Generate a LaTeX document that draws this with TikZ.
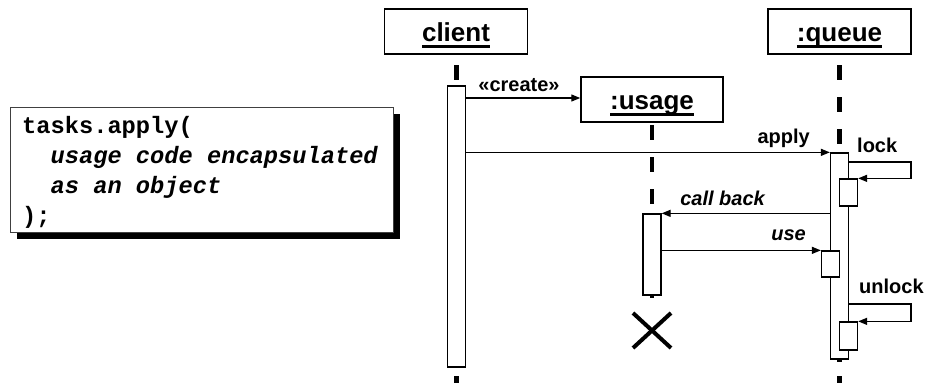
\documentclass[tikz,border=0pt]{standalone}
\usepackage{fontspec}
\setmainfont{Liberation Sans}
\setmonofont{Liberation Mono}
\usetikzlibrary{arrows.meta}
\newsavebox\ulbox
\newcommand{\ulname}[1]{\sbox\ulbox{#1}\rlap{\rule[-6pt]{\wd\ulbox}{2.6pt}}\usebox\ulbox}
\begin{document}
\begin{tikzpicture}[x=1pt,y=-1pt,
  objbox/.style={draw, line width=1.5pt, fill=white, minimum width=143pt, minimum height=45pt,
    inner sep=0pt, text height=25pt, text depth=4.6pt, font=\fontsize{26}{30}\selectfont\bfseries},
  bar/.style={draw, line width=1.3pt, fill=white, minimum width=18pt, inner sep=0pt},
  msg/.style={line width=1.3pt, -{Triangle[length=9pt,width=7pt]}},
  lbl/.style={font=\fontsize{20}{24}\selectfont\bfseries, inner sep=0pt},
  lifeline/.style={line width=4.5pt, dash pattern=on 15pt off 17pt},
  codeline/.style={font=\fontsize{23.7}{30}\selectfont\ttfamily\bfseries, inner sep=0pt, anchor=base west}]
\useasboundingbox (0,0) rectangle (926,383);

% code box
\node[fill=black, minimum width=383pt, minimum height=125pt, inner sep=0pt] (codeshadow) at (208.5,176.5) {};
\node[draw=black!75, line width=1pt, fill=white, minimum width=383pt, minimum height=125pt, inner sep=0pt] (codebox) at (201.5,169.5) {};
\node[codeline] (code1) at (22,133) {tasks.apply(};
\node[codeline] (code2) at (22,163) {\phantom{tt}\itshape usage code encapsulated};
\node[codeline] (code3) at (22,193) {\phantom{tt}\itshape as an object};
\node[codeline] (code4) at (22,223) {);};

% objects
\node[objbox] (client) at (456,31.5) {\ulname{client}};
\node[objbox] (queue) at (839.5,31.5) {\ulname{:queue}};
\node[objbox, minimum width=142pt] (usage) at (652,99.5) {\ulname{:usage}};

% lifelines
\draw[lifeline] (456.5,65) -- (456.5,86);
\draw[lifeline] (456.5,376) -- (456.5,383);
\draw[lifeline] (839.5,65) -- (839.5,153);
\draw[lifeline] (839.5,359) -- (839.5,362);
\draw[lifeline] (839.5,376) -- (839.5,383);
\draw[lifeline] (652,125) -- (652,214);
\draw[lifeline] (652,295) -- (652,298);

% activation bars
\node[bar, minimum height=281pt] (cbar) at (456.5,226.5) {};
\node[bar, minimum height=206pt] (qbar) at (839.5,256) {};
\node[bar, minimum height=81pt] (ubar) at (652,254.5) {};
\node[bar, minimum height=27pt] (lockbar) at (848.5,192.5) {};
\node[bar, minimum height=26pt] (usebar) at (830.5,264) {};
\node[bar, minimum height=28pt] (unlockbar) at (848.5,336) {};

% messages
\draw[msg] (cbar.east |- 0,98) -- (usage.west |- 0,98);
\node[lbl, anchor=base] (lcreate) at (519,91.5) {«create»};

\draw[msg] (cbar.east |- qbar.north) -- (qbar.north west);
\node[lbl, anchor=base east] (lapply) at (810,143.5) {apply};

\coordinate (lockturn) at (911,162);
\draw[msg] (qbar.east |- lockturn) -- (lockturn) |- (lockbar.north east);
\node[lbl, anchor=base west] (llock) at (857,152) {lock};

\draw[msg] (qbar.west |- ubar.north) -- (ubar.north east);
\node[lbl, anchor=base east] (lcallback) at (765,205) {\itshape call back};

\draw[msg] (ubar.east |- usebar.north) -- (usebar.north west);
\node[lbl, anchor=base east] (luse) at (806,240) {\itshape use};

\coordinate (unlockturn) at (911,304);
\draw[msg] (qbar.east |- unlockturn) -- (unlockturn) |- (unlockbar.north east);
\node[lbl, anchor=base west] (lunlock) at (859,293) {unlock};

% destruction
\draw[line width=4pt] (633,313) -- (671,348) (633,348) -- (671,313);
\end{tikzpicture}
\end{document}
